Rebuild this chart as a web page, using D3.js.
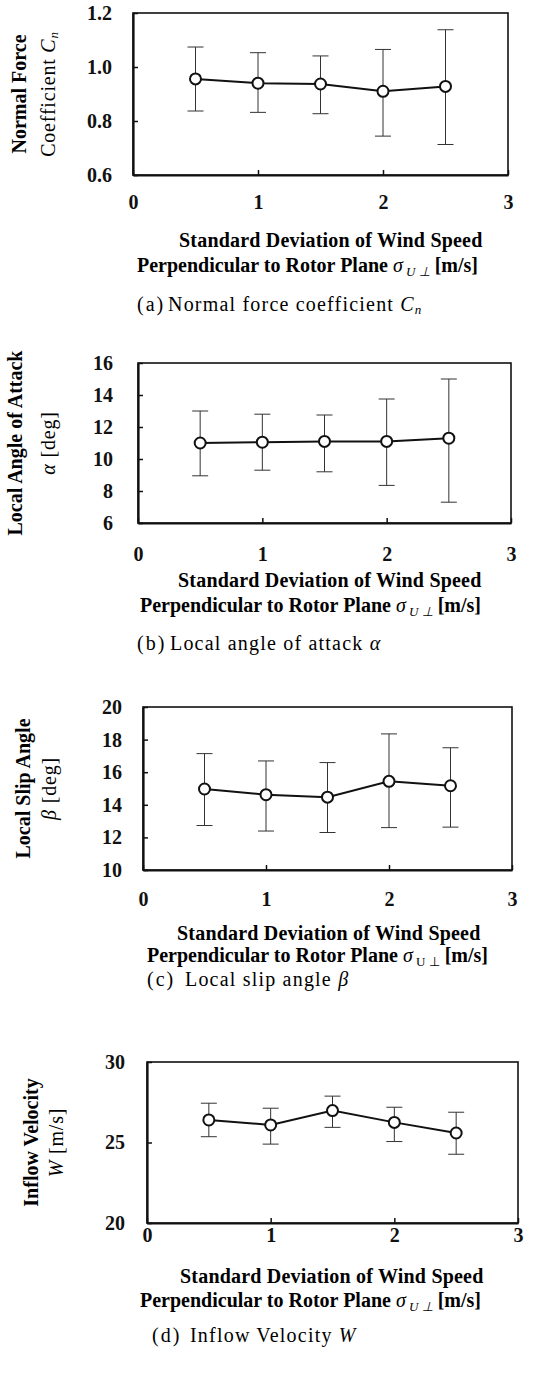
<!DOCTYPE html>
<html lang="en">
<head>
  <meta charset="UTF-8">
  <title>Wind turbine blade quantities vs. turbulence</title>
  <script src="https://d3js.org/d3.v7.min.js"></script>
  <style>
    body {
      margin: 0;
      background: white;
    }
    svg {
      display: block;
      font-family: "Liberation Serif", "Times New Roman", serif;
    }
    .tick text {
      font-family: "Liberation Serif", "Times New Roman", serif;
      font-size: 20px;
      font-weight: bold;
      fill: #111;
    }
    .tick line {
      stroke: #111;
      stroke-width: 1.5;
    }
  </style>
</head>
<body>

<svg id="chart" width="533" height="1376"></svg>

<script>
  // x values: standard deviation of wind speed perpendicular to rotor plane [m/s]
  const sigma = [0.5, 1, 1.5, 2, 2.5];
  const xTicks = [0, 1, 2, 3];

  // (a) normal force coefficient Cn
  const cnMean  = [0.956, 0.940, 0.937, 0.910, 0.928];
  const cnUpper = [1.074, 1.053, 1.041, 1.065, 1.138];
  const cnLower = [0.837, 0.832, 0.827, 0.744, 0.713];
  const cnTicks = [0.6, 0.8, 1.0, 1.2];

  // (b) local angle of attack alpha [deg]
  const alphaMean  = [11.0, 11.05, 11.1, 11.1, 11.3];
  const alphaUpper = [13.0, 12.8, 12.75, 13.75, 15.0];
  const alphaLower = [8.95, 9.3, 9.2, 8.35, 7.3];
  const alphaTicks = [6, 8, 10, 12, 14, 16];

  // (c) local slip angle beta [deg]
  const betaMean  = [14.97, 14.62, 14.47, 15.44, 15.17];
  const betaUpper = [17.14, 16.69, 16.59, 18.35, 17.5];
  const betaLower = [12.73, 12.39, 12.3, 12.6, 12.63];
  const betaTicks = [10, 12, 14, 16, 18, 20];

  // (d) inflow velocity W [m/s]
  const wMean  = [26.4, 26.09, 26.98, 26.25, 25.59];
  const wUpper = [27.44, 27.13, 27.88, 27.19, 26.88];
  const wLower = [25.36, 24.9, 25.94, 25.06, 24.27];
  const wTicks = [20, 25, 30];

  const svg = d3.select("#chart");

  // layout for each panel (frame position, text positions)
  const panels = [
    {
      mean: cnMean, upper: cnUpper, lower: cnLower, ticks: cnTicks, fmt: ".1f",
      box: {l: 133, r: 508, t: 13, b: 175}, yLabelRight: 112,
      yTitle1: ["Normal Force"], yTitle2: [["Coefficient ", ""], ["C", "i"], ["n", "isub"]],
      yT1x: 26, yT2x: 55,
      xLabelY: 209, xT1: [179, 247], xT2: [137, 272],
      capLetter: "a", capX: [137, 168, 311],
      caption: [["Normal force coefficient ", ""], ["C", "i"], ["n", "isub"]],
      subItalic: true
    },
    {
      mean: alphaMean, upper: alphaUpper, lower: alphaLower, ticks: alphaTicks, fmt: "d",
      box: {l: 138, r: 511, t: 363, b: 523}, yLabelRight: 113,
      yTitle1: ["Local Angle of Attack"], yTitle2: [["α", "i"], [" [deg]", ""]],
      yT1x: 22, yT2x: 55,
      xLabelY: 561, xT1: [178, 587], xT2: [140, 612],
      capLetter: "b", capX: [137, 170, 650],
      caption: [["Local angle of attack ", ""], ["α", "i"]],
      subItalic: true
    },
    {
      mean: betaMean, upper: betaUpper, lower: betaLower, ticks: betaTicks, fmt: "d",
      box: {l: 143, r: 512, t: 707, b: 870}, yLabelRight: 122,
      yTitle1: ["Local Slip Angle"], yTitle2: [["β", "i"], [" [deg]", ""]],
      yT1x: 30, yT2x: 56,
      xLabelY: 906, xT1: [177, 940], xT2: [147, 962],
      capLetter: "c", capX: [147, 185, 986],
      caption: [["Local slip angle ", ""], ["β", "i"]],
      subItalic: false
    },
    {
      mean: wMean, upper: wUpper, lower: wLower, ticks: wTicks, fmt: "d",
      box: {l: 147, r: 518, t: 1062, b: 1223}, yLabelRight: 125,
      yTitle1: ["Inflow Velocity"], yTitle2: [["W", "i"], [" [m/s]", ""]],
      yT1x: 38, yT2x: 63,
      xLabelY: 1242, xT1: [180, 1283], xT2: [140, 1307],
      capLetter: "d", capX: [152, 190, 1342],
      caption: [["Inflow Velocity ", ""], ["W", "i"]],
      subItalic: true
    }
  ];

  // append tspans: parts are [text, style] with style "", "i", "isub", "sub"
  function addParts(textSel, parts) {
    parts.forEach(([t, s]) => {
      const ts = textSel.append("tspan").text(t);
      if (s.startsWith("i")) ts.attr("font-style", "italic");
      if (s.endsWith("sub")) ts.attr("font-size", "13px").attr("baseline-shift", "-25%");
    });
  }

  panels.forEach(p => {
    const x = d3.scaleLinear().domain([0, 3]).range([p.box.l, p.box.r]);
    const y = d3.scaleLinear()
      .domain([p.ticks[0], p.ticks[p.ticks.length - 1]])
      .range([p.box.b, p.box.t]);

    const g = svg.append("g");

    // frame
    g.append("rect")
      .attr("x", p.box.l)
      .attr("y", p.box.t)
      .attr("width", p.box.r - p.box.l)
      .attr("height", p.box.b - p.box.t)
      .attr("fill", "none")
      .attr("stroke", "#111")
      .attr("stroke-width", 1.6);

    // x axis, ticks pointing inward
    const xAxis = g.append("g")
      .attr("transform", `translate(0,${p.box.b})`)
      .call(d3.axisBottom(x).tickValues(xTicks).tickFormat(d3.format("d"))
        .tickSizeInner(-5).tickSizeOuter(0));
    xAxis.select(".domain").attr("stroke", "#111").attr("stroke-width", 2.2);
    xAxis.selectAll("text").attr("y", p.xLabelY - p.box.b).attr("dy", null);

    // y axis
    const yAxis = g.append("g")
      .attr("transform", `translate(${p.box.l},0)`)
      .call(d3.axisLeft(y).tickValues(p.ticks).tickFormat(d3.format(p.fmt))
        .tickSizeInner(-5).tickSizeOuter(0).tickPadding(p.box.l - p.yLabelRight));
    yAxis.select(".domain").attr("stroke", "#111").attr("stroke-width", 2.2);

    const rows = sigma.map((s, i) => ({s, m: p.mean[i], hi: p.upper[i], lo: p.lower[i]}));

    // error bars
    const eb = g.append("g").attr("stroke", "#333").attr("stroke-width", 1);
    eb.selectAll(".whisker")
      .data(rows)
      .join("line")
      .attr("x1", d => x(d.s)).attr("x2", d => x(d.s))
      .attr("y1", d => y(d.hi)).attr("y2", d => y(d.lo));
    eb.selectAll(".capHi")
      .data(rows)
      .join("line")
      .attr("x1", d => x(d.s) - 8).attr("x2", d => x(d.s) + 8)
      .attr("y1", d => y(d.hi)).attr("y2", d => y(d.hi));
    eb.selectAll(".capLo")
      .data(rows)
      .join("line")
      .attr("x1", d => x(d.s) - 8).attr("x2", d => x(d.s) + 8)
      .attr("y1", d => y(d.lo)).attr("y2", d => y(d.lo));

    // mean line and markers
    g.append("path")
      .datum(rows)
      .attr("fill", "none")
      .attr("stroke", "#111")
      .attr("stroke-width", 2)
      .attr("d", d3.line().x(d => x(d.s)).y(d => y(d.m)));

    g.selectAll(".pt")
      .data(rows)
      .join("circle")
      .attr("cx", d => x(d.s))
      .attr("cy", d => y(d.m))
      .attr("r", 5.5)
      .attr("fill", "white")
      .attr("stroke", "#111")
      .attr("stroke-width", 2);

    // y axis titles (two rotated lines)
    const yc = (p.box.t + p.box.b) / 2;
    g.append("text")
      .attr("transform", `translate(${p.yT1x},${yc}) rotate(-90)`)
      .attr("text-anchor", "middle")
      .attr("font-size", 20)
      .attr("font-weight", "bold")
      .text(p.yTitle1[0]);
    const t2 = g.append("text")
      .attr("transform", `translate(${p.yT2x},${yc}) rotate(-90)`)
      .attr("text-anchor", "middle")
      .attr("font-size", 20)
      .attr("letter-spacing", 0.8);
    addParts(t2, p.yTitle2);

    // x axis title
    g.append("text")
      .attr("x", p.xT1[0])
      .attr("y", p.xT1[1])
      .attr("font-size", 20)
      .attr("font-weight", "bold")
      .attr("letter-spacing", 0.2)
      .text("Standard Deviation of Wind Speed");
    const xt2 = g.append("text")
      .attr("x", p.xT2[0])
      .attr("y", p.xT2[1])
      .attr("font-size", 20)
      .attr("font-weight", "bold");
    xt2.append("tspan").text("Perpendicular to Rotor Plane  ");
    xt2.append("tspan").attr("font-style", "italic").attr("font-weight", "normal").text("σ");
    xt2.append("tspan").attr("font-size", "13px").attr("baseline-shift", "-30%")
      .attr("font-weight", "normal")
      .attr("font-style", p.subItalic ? "italic" : "normal").text(" U ⊥");
    xt2.append("tspan").text(" [m/s]");

    // caption
    g.append("text")
      .attr("x", p.capX[0])
      .attr("y", p.capX[2])
      .attr("font-size", 20)
      .attr("letter-spacing", 2)
      .text(`(${p.capLetter})`);
    const cap = g.append("text")
      .attr("x", p.capX[1])
      .attr("y", p.capX[2])
      .attr("font-size", 20)
      .attr("letter-spacing", 1.2);
    addParts(cap, p.caption);
  });
</script>

</body>
</html>
